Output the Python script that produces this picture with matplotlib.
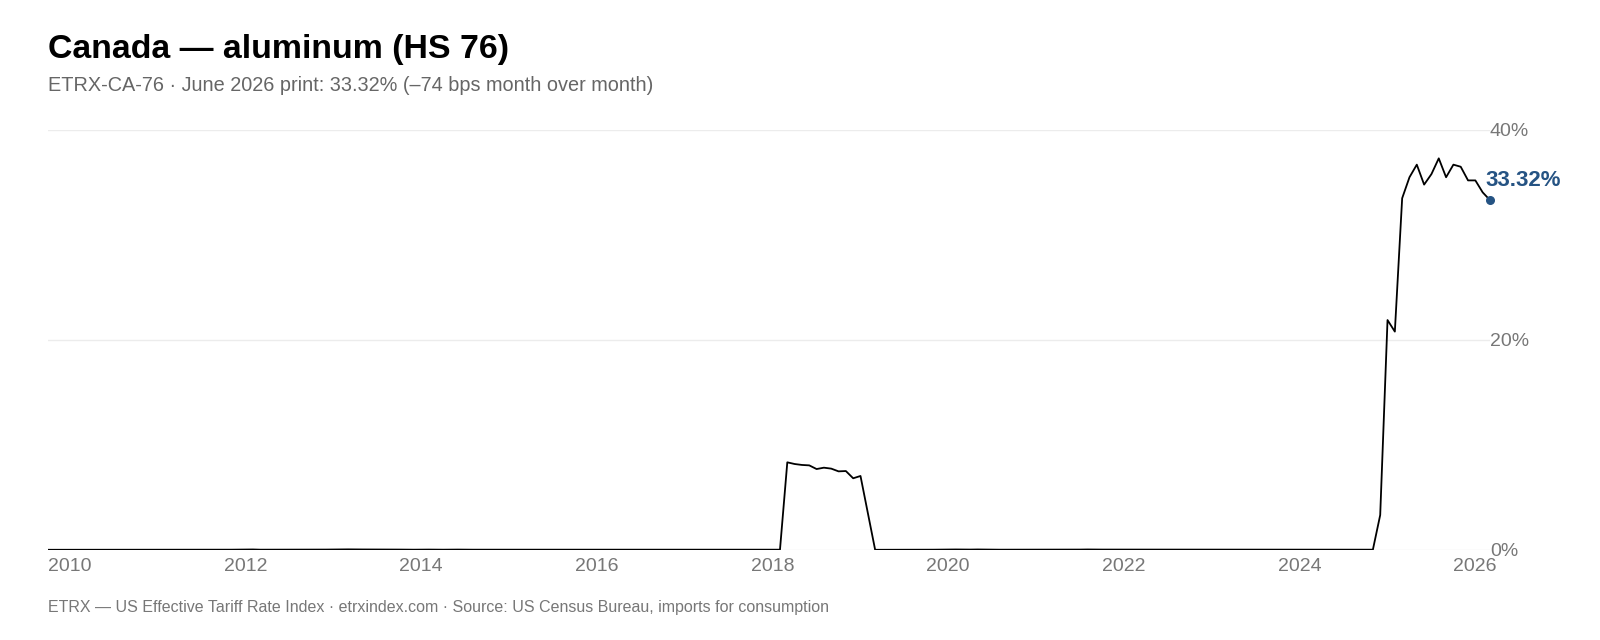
import numpy as np
import matplotlib.pyplot as plt

plt.rcParams['font.family'] = ['Liberation Sans', 'DejaVu Sans']

# monthly effective tariff rate, %, Jan 2010 .. Jun 2026
start_year = 2010
pre_2018 = [
    0.02, 0.02, 0.02, 0.02, 0.02, 0.02, 0.02, 0.02, 0.02, 0.02, 0.02, 0.02,  # 2010
    0.02, 0.02, 0.02, 0.03, 0.03, 0.02, 0.02, 0.03, 0.03, 0.02, 0.02, 0.02,  # 2011
    0.03, 0.03, 0.04, 0.04, 0.05, 0.03, 0.03, 0.04, 0.03, 0.03, 0.02, 0.03,  # 2012
    0.02, 0.03, 0.04, 0.05, 0.05, 0.06, 0.05, 0.05, 0.05, 0.06, 0.04, 0.04,  # 2013
    0.04, 0.03, 0.03, 0.04, 0.04, 0.03, 0.03, 0.04, 0.04, 0.03, 0.03, 0.03,  # 2014
    0.03, 0.03, 0.03, 0.04, 0.04, 0.04, 0.03, 0.03, 0.03, 0.04, 0.04, 0.03,  # 2015
    0.03, 0.04, 0.04, 0.04, 0.03, 0.03, 0.03, 0.04, 0.04, 0.04, 0.03, 0.03,  # 2016
    0.03, 0.03, 0.04, 0.04, 0.04, 0.03, 0.03, 0.04, 0.04, 0.03, 0.03, 0.03,  # 2017
    0.03, 0.03, 0.03, 0.03, 0.03,                                            # Jan-May 2018
]
tariff_2018 = [8.35, 8.19, 8.10, 8.06, 7.71, 7.84, 7.75, 7.49, 7.52, 6.83, 7.05, 3.55]
mid = [
    0.02, 0.02, 0.02, 0.02, 0.03, 0.03, 0.03,                                # Jun-Dec 2019
    0.03, 0.03, 0.04, 0.04, 0.05, 0.04, 0.04, 0.05, 0.04, 0.04, 0.03, 0.03,  # 2020
    0.03, 0.02, 0.02, 0.03, 0.03, 0.02, 0.03, 0.03, 0.04, 0.04, 0.05, 0.04,  # 2021
    0.04, 0.04, 0.03, 0.03, 0.03, 0.04, 0.04, 0.03, 0.03, 0.03, 0.04, 0.04,  # 2022
    0.03, 0.03, 0.03, 0.03, 0.04, 0.04, 0.04, 0.03, 0.03, 0.03, 0.03, 0.03,  # 2023
    0.03, 0.03, 0.03, 0.04, 0.04, 0.03, 0.03, 0.03, 0.03, 0.03, 0.04, 0.04,  # 2024
    0.03, 0.03,                                                              # Jan-Feb 2025
]
tariff_2025 = [3.33, 21.9, 20.8, 33.5, 35.5, 36.7, 34.8, 35.8, 37.3, 35.5,
               36.7, 36.5, 35.2, 35.2, 34.06, 33.32]

rate = np.array(pre_2018 + tariff_2018 + mid + tariff_2025)
x = start_year + np.arange(len(rate)) / 12

year_ticks = list(range(2010, 2027, 2))
pct_ticks = [0, 20, 40]

title = 'Canada \u2014 aluminum (HS 76)'
subtitle = 'ETRX-CA-76 \u00b7 June 2026 print: 33.32% (\u201374 bps month over month)'
footer = ('ETRX \u2014 US Effective Tariff Rate Index \u00b7 etrxindex.com \u00b7 '
          'Source: US Census Bureau, imports for consumption')

blue = '#255383'
grey = '#777777'

fig = plt.figure(figsize=(16, 6.4), dpi=100)
ax = fig.add_axes([48 / 1600, 1 - 550 / 640, 1442 / 1600, 420 / 640])

for t in pct_ticks:
    ax.axhline(t, color='#ececec', lw=1, zorder=0)

ax.plot(x, rate, color='black', lw=1.3, zorder=3)
ax.scatter([x[-1]], [rate[-1]], s=30, color=blue, zorder=4, clip_on=False)
ax.annotate(f'{rate[-1]:.2f}%', (x[-1], rate[-1]), xytext=(-3, 14),
            textcoords='offset points', ha='left', va='center',
            fontsize=16, fontweight='bold', color=blue)

ax.set_xlim(x[0], x[-1])
ax.set_ylim(0, 40)
ax.set_xticks(year_ticks)
ax.set_xticklabels([str(y) for y in year_ticks], ha='left')
ax.set_yticks(pct_ticks)
ax.set_yticklabels([f'{t}%' for t in pct_ticks])
ax.yaxis.tick_right()
ax.tick_params(axis='both', length=0, labelsize=14, labelcolor=grey)
ax.tick_params(axis='x', pad=6)
ax.tick_params(axis='y', pad=0)
for s in ax.spines.values():
    s.set_visible(False)

fig.text(48 / 1600, 1 - 58 / 640, title, fontsize=24.4, fontweight='bold',
         va='baseline', ha='left')
fig.text(48 / 1600, 1 - 91 / 640, subtitle, fontsize=14.3, color='#666666',
         va='baseline', ha='left')
fig.text(48 / 1600, 1 - 612 / 640, footer, fontsize=11.5, color=grey,
         va='baseline', ha='left')

fig.savefig('out.png', dpi=100, facecolor='white')
